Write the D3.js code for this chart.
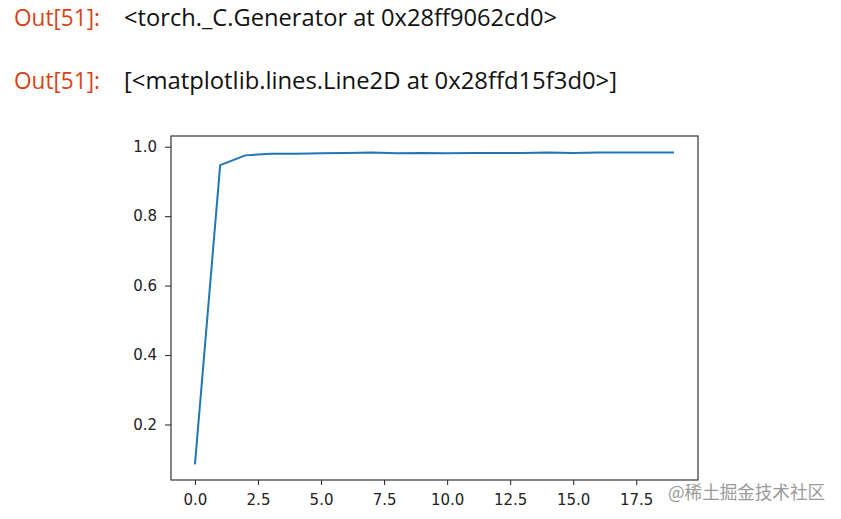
<!DOCTYPE html>
<html lang="en">
<head>
  <meta charset="utf-8">
  <title>Out[51] - accuracy curve</title>
  <script src="https://d3js.org/d3.v7.min.js"></script>
<style>
  body { margin: 0; background: #fff; }
  .out { fill: #d84315; font-family: "Open Sans", "Noto Sans", sans-serif; font-size: 24px; }
  .repr { fill: #111; font-family: "Open Sans", "Noto Sans", sans-serif; font-size: 23px; }
  .mark { fill: #9a9a9a; font-family: "Noto Sans CJK SC", sans-serif; font-size: 18px; }
</style>
</head>
<body>
<script>
  // epochs and values
  var epochs = d3.range(0, 20);
  var acc = [0.085, 0.947, 0.975, 0.980, 0.980, 0.981, 0.982, 0.983, 0.981, 0.982,
             0.981, 0.982, 0.982, 0.982, 0.983, 0.982, 0.983, 0.983, 0.983, 0.983];
  var xTicks = [0, 2.5, 5, 7.5, 10, 12.5, 15, 17.5];
  var yTicks = [0.2, 0.4, 0.6, 0.8, 1.0];

  (function draw() {
    var width = 841, height = 519;
    var svg = d3.select("body").append("svg")
      .attr("width", width)
      .attr("height", height);

    // notebook output lines
    var outs = [
      { y: 26, text: "<torch._C.Generator at 0x28ff9062cd0>", w: 433 },
      { y: 89, text: "[<matplotlib.lines.Line2D at 0x28ffd15f3d0>]", w: 493 }
    ];
    outs.forEach(function (o) {
      svg.append("text").attr("class", "out")
        .attr("x", 14).attr("y", o.y)
        .attr("textLength", 86).attr("lengthAdjust", "spacingAndGlyphs")
        .text("Out[51]:");
      svg.append("text").attr("class", "repr")
        .attr("x", 124).attr("y", o.y)
        .attr("textLength", o.w).attr("lengthAdjust", "spacingAndGlyphs")
        .text(o.text);
    });

    // axes box
    var x0 = 171, y0 = 136, x1 = 698, y1 = 480;

    var x = d3.scaleLinear().domain([-0.95, 19.95]).range([x0, x1]);
    var y = d3.scaleLinear().domain([0.04, 1.0308]).range([y1, y0]);

    var gx = svg.append("g")
      .attr("transform", "translate(0," + y1 + ")")
      .call(d3.axisBottom(x).tickValues(xTicks).tickFormat(d3.format(".1f")).tickSize(5).tickPadding(9));

    var gy = svg.append("g")
      .attr("transform", "translate(" + x0 + ",0)")
      .call(d3.axisLeft(y).tickValues(yTicks).tickFormat(d3.format(".1f")).tickSize(6).tickPadding(8));

    [gx, gy].forEach(function (g) {
      g.select(".domain").remove();
      g.selectAll(".tick line").attr("stroke", "#333").attr("stroke-width", 1.1);
      g.selectAll(".tick text")
        .attr("fill", "#222")
        .style("font-family", "'DejaVu Sans', sans-serif")
        .style("font-size", "15px");
    });

    // the curve
    var line = d3.line()
      .x(function (d, i) { return x(epochs[i]); })
      .y(function (d) { return y(d); });

    svg.append("path")
      .datum(acc)
      .attr("fill", "none")
      .attr("stroke", "#1f77b4")
      .attr("stroke-width", 2)
      .attr("stroke-linejoin", "round")
      .attr("d", line);

    // spines
    svg.append("rect")
      .attr("x", x0).attr("y", y0)
      .attr("width", x1 - x0).attr("height", y1 - y0)
      .attr("fill", "none")
      .attr("stroke", "#333")
      .attr("stroke-width", 1.2);

    // watermark
    svg.append("text").attr("class", "mark")
      .attr("x", 668).attr("y", 499)
      .attr("textLength", 157).attr("lengthAdjust", "spacingAndGlyphs")
      .text("@稀土掘金技术社区");
  })();
</script>
</body>
</html>
